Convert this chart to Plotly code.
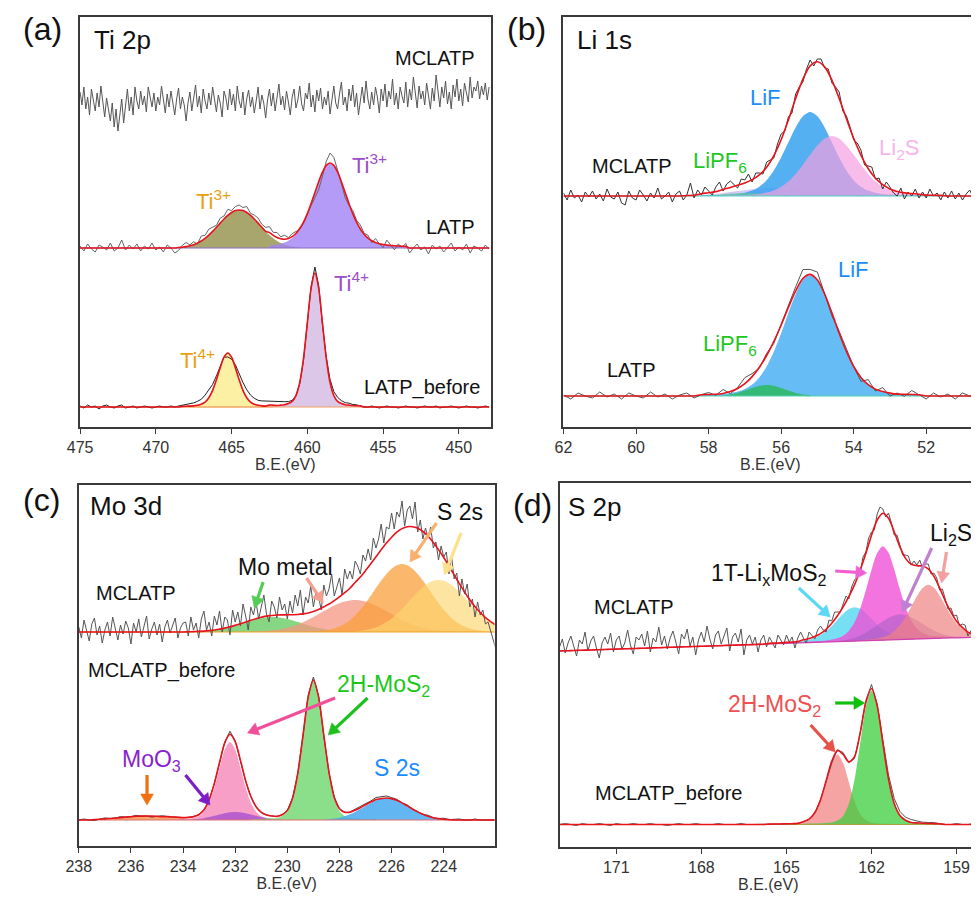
import numpy as np
import plotly.graph_objects as go

# page geometry: the html body keeps its default 8 px margin, so the figure is drawn 8 px in
W, H, OFF = 979, 897, 8
FW, FH = W - OFF, H - OFF
FONT = "Liberation Sans, Arial, sans-serif"

# ================= Panel (a) Ti 2p : grid 475 -> 448 eV, step 0.25 (MCLATP raw: step 0.125) =================
A_EV0, A_STEP, A_N = 475.0, 0.25, 109
A_RAW_STEP, A_RAW_N = 0.125, 217
a_mclatp_raw = [335,322,340,318,330,312,338,325,316,334, 320,341,326,310,329,318,306,324,300,318,
                296,312,328,304,322,338,316,330,312,340, 326,318,336,322,331,315,340,328,320,334,
                316,330,322,341,327,314,333,320,336,324, 312,328,339,318,330,322,306,324,335,316,
                329,342,320,331,314,338,326,318,334,322, 340,327,315,332,324,310,336,329,317,338,
                322,333,316,341,326,319,335,312,328,337, 320,330,314,326,340,318,332,324,309,327,
                338,321,334,316,329,343,322,331,317,336, 325,312,330,338,319,327,341,323,316,334,
                328,344,320,332,315,337,326,339,318,330, 322,336,313,327,341,324,318,333,345,322,
                330,316,338,326,342,320,334,312,329,340, 324,346,328,318,335,322,340,330,314,338,
                326,343,320,336,328,348,322,334,318,340, 331,324,345,320,338,327,350,332,319,341,
                328,336,322,344,330,318,339,326,352,334, 320,340,329,346,323,335,318,342,330,348,
                326,338,321,344,333,325,350,329,340,336, 346,328,341,332,344,327,340]
a_latp_base = 179
a_latp_ti3_low_start = 26
a_latp_ti3_low = [0.5,0.8,1.4,2.2,3.3,4.9,7.0,9.7,12.9,16.6,20.7,24.9,29.0,32.6,35.5,37.4,38,37.4,35.5,
                  32.6,29.0,24.9,20.7,16.6,12.9,9.7,7.0,4.9,3.3,2.2,1.4,0.8,0.5]
a_latp_ti3_main_start = 50
a_latp_ti3_main = [2.5,2.9,3.5,4.3,5.4,7.3,9.9,13.7,19.0,25.8,34.4,44.5,55.4,66.3,75.8,82.6,85,82.6,75.8,
                   66.3,55.4,44.5,34.4,25.8,19.0,13.7,9.9,7.3,5.4,4.3,3.5,2.9,2.5,2.2,2.0,1.8,1.6]
a_latp_resid = [2,-3,4,-1,-4,3,1,-2,5,-3,0,8,-2,3,-1,4,-3,2,-1,5,-2,1,-4,3,0,-5,
                -3,2,4,1,3,-1,5,3,6,4,2,5,3,6,2,4,
                5,3,6,2,4,5,3,4,6,3,5,2,4,1,3,2,-1,
                -1,0,-2,-5,-8,-4,4,
                10,8,2,-3,-5,-2,3,2,4,1,
                3,-2,4,0,-3,5,1,-4,2,-1,3,-5,0,4,-2,1,-6,3,-1,2,-4,0,5,-3,1,-2,4,-5,2,0,-3,3,-1]
a_bf_base = 20
a_bf_ti4_low_start = 27
a_bf_ti4_low = [0.6,0.8,0.9,1.1,1.7,2.7,4.9,9.3,16.6,27.2,39.3,49.8,54,49.8,39.3,27.2,16.6,9.3,4.9,2.7,
                1.7,1.1,0.9,0.8,0.6]
a_bf_ti4_main_start = 50
a_bf_ti4_main = [1.1,1.2,1.5,1.9,2.3,3.4,5.6,11.4,24.5,48.9,83.9,118.6,134,118.6,83.9,48.9,24.5,11.4,5.6,
                 3.4,2.3,1.9,1.5,1.2,1.1]
a_bf_resid = [1,-1,2,0,1,-2,1,2,0,-1,1,2,-1,0,1,-1,0,1,0,-1,0,1,0,0,1,0,
              1,1,2,2,3,4,5,7,8,6,4,2,0,
              -4,
              -2,3,6,8,8,7,6,5,5,5,4,4,
              4,3,3,2,1,0,-1,-2,-3,2,
              6,
              3,-2,1,3,4,4,3,2,2,1,1,0,0,
              0,1,0,-1,0,1,0,0,-1,0,1,0,0,-1,0,1,0,0,1,-1,0,0,1,0,-1,0,1,0,0,-1,0,1,0]

# ================= Panel (b) Li 1s : grid 62 -> 50.6 eV, step 0.2 (MCLATP raw: step 0.1) =================
B_EV0, B_STEP, B_N = 62.0, 0.2, 58
B_RAW_STEP, B_RAW_N = 0.1, 115
b_mc_base = 231
b_mc_broad_start = 17
b_mc_broad = [0.45,0.7,1.1,1.6,2.2,3.0,3.9,4.9,5.8,6.7,7.4,7.8,8,7.8,7.4,6.7,5.8,4.9,3.9,3.0,2.2,1.6,1.1,0.7,0.45]
b_mc_lipf6_start = 19
b_mc_lipf6 = [0.4,0.7,1.2,1.8,2.4,2.8,3,2.8,2.4,1.8,1.2,0.7,0.4]
b_mc_lif_start = 19
b_mc_lif = [0.8,0.9,1.0,1.1,1.5,2.1,3.2,5.4,9.3,15.8,25.6,38.5,53.7,68.6,79.8,84,79.8,68.6,53.7,38.5,
            25.6,15.8,9.3,5.4,3.2,2.1,1.5,1.1,1.0,0.9,0.8]
b_mc_li2s_start = 22
b_mc_li2s = [0.6,0.7,0.9,1.0,1.5,2.1,3.4,5.6,9.2,14.6,22.1,31.2,41.2,50.6,57.5,60,57.5,50.6,41.2,31.2,
             22.1,14.6,9.2,5.6,3.4,2.1,1.5,1.0,0.9,0.7,0.6]
b_mc_raw = [234,227,237,229,232,225,235,230,236,228, 233,226,238,230,228,235,224,222,236,229,
            227,237,232,226,234,229,239,228,231,235, 225,233,236,227,232,244,229,237,232,240,
            236,232,240,245,236,243,246,242,239,248, 247,253,245,254,254,253,265,267,269,283,
            293,296,310,314,333,340,345,358,367,361, 368,368,359,358,344,340,335,316,311,300,
            287,284,277,262,261,260,248,249,238,245, 240,234,231,239,228,235,231,238,229,235,
            229,238,231,234,227,235,229,236,228,234, 227,233,237,229,234]
b_latp_base = 31
b_latp_lipf6_start = 22
b_latp_lipf6 = [0.6,1.5,3.1,5.4,8.0,10.2,11,10.2,8.0,5.4,3.1,1.5,0.6]
b_latp_lif_start = 19
b_latp_lif = [1.3,1.5,1.7,1.9,2.9,4.4,6.9,11.4,18.6,29.5,44.5,62.8,83.1,102.0,115.9,121,115.9,102.0,
              83.1,62.8,44.5,29.5,18.6,11.4,6.9,4.4,2.9,1.9,1.7,1.5,1.3]
b_latp_resid = [1,-3,3,0,-2,4,-1,2,-3,3,0,-2,4,-1,2,-3,1,3,-2,0,2,-1,4,-2,1,6,3,-1,2,-2,
                1,3,4,9,5,8,-1,-3,2,3,0,-4,5,-2,4,-3,1,-2,4,0,-3,3,-1,2,-3,3,0,-2]

# ================= Panel (c) Mo 3d : grid 238 -> 222 eV, step 0.2 (MCLATP raw: step 0.1) =================
C_EV0, C_STEP, C_N = 238.0, 0.2, 81
C_RAW_STEP, C_RAW_N = 0.1, 161
c_mc_base = 214
c_mc_mo_start = 21
c_mc_mo = [0.2,0.4,0.6,0.9,1.4,2.0,2.9,3.9,5.2,6.7,8.3,9.9,11.5,12.9,14.0,14.8,15,14.8,14.0,12.9,11.5,
           9.9,8.3,6.7,5.2,3.9,2.9,2.0,1.4,0.9,0.6,0.4,0.2]
c_mc_salmon_start = 33
c_mc_salmon = [0.3,0.45,0.7,1.1,1.5,2.2,3.1,4.3,5.8,7.6,9.8,12.3,15.0,17.9,20.9,23.8,26.5,28.8,30.5,31.6,
               32,31.6,30.5,28.8,26.5,23.8,20.9,17.9,15.0,12.3,9.8,7.6,5.8,4.3,3.1,2.2,1.5,1.1,0.7,0.45,0.3]
c_mc_s2s_a_start = 45
c_mc_s2s_a = [0.4,0.7,1.4,2.2,3.5,5.5,8.2,11.8,16.6,22.2,28.9,36.2,43.9,51.4,58.1,63.3,66.8,68,66.8,
              63.3,58.1,51.4,43.9,36.2,28.9,22.2,16.6,11.8,8.2,5.5,3.5,2.2,1.4,0.7,0.4]
c_mc_s2s_b_start = 53
c_mc_s2s_b = [0.75,1.2,2.0,3.2,4.8,7.0,9.9,13.6,18.1,23.1,28.7,34.4,39.9,44.8,48.7,51.2,52,51.2,48.7,
              44.8,39.9,34.4,28.7,23.1,18.1,13.6,9.9,7.0]
c_mc_raw = [219,208,226,215,205,222,228,211,220,203,216,224,210,229,217,206,221,212,225,218,
            202,223,214,227,209,220,230,207,217,224,211,222,204,219,226,213,221,228,208,218,
            223,224,210,229,216,223,208,227,235,216,224,210,230,221,235,214,229,226,211,236,
            224,234,220,242,230,216,239,231,244,227,239,251,232,224,245,239,228,249,236,242,
            227,245,233,251,240,256,231,249,243,260,239,254,249,236,261,250,257,272,250,260,
            268,251,277,267,275,267,285,280,272,291,285,297,286,308,298,307,322,303,319,317,
            333,317,334,329,345,320,336,340,327,344,314,326,307,318,308,319,298,304,286,300,
            289,294,272,290,267,273,250,267,252,262,239,247,229,244,231,236,222,224,214,205,
            197]
c_bf_base = 26
c_bf_orange_start = 3
c_bf_orange = [0.5,0.8,1.1,1.5,1.9,2.4,2.9,3.3,3.7,3.9,4,3.9,3.7,3.3,2.9,2.4,1.9,1.5,1.1,0.8,0.5]
c_bf_pink_start = 17
c_bf_pink = [0.5,0.6,0.8,0.9,1.2,2.0,3.7,8.2,17.2,32.4,52.2,70.3,78,70.3,52.2,32.4,17.2,8.2,3.7,2.0,
             1.2,0.9,0.8,0.6,0.5]
c_bf_moo3_start = 21
c_bf_moo3 = [0.3,0.6,1.1,1.8,2.9,4.2,5.5,6.8,7.7,8,7.7,6.8,5.5,4.2,2.9,1.8,1.1,0.6,0.3]
c_bf_green_start = 33
c_bf_green = [0.8,0.9,1.1,1.3,1.7,2.1,4.1,9.0,21.4,46.6,84.4,122.8,140,122.8,84.4,46.6,21.4,9.0,4.1,
              2.1,1.7,1.3,1.1,0.9,0.8]
c_bf_blue_start = 47
c_bf_blue = [0.4,0.8,1.4,2.3,3.7,5.7,8.1,11.0,14.1,17.1,19.7,21.4,22,21.4,19.7,17.1,14.1,11.0,8.1,5.7,
             3.7,2.3,1.4,0.8,0.4]
c_bf_resid = [0,1,0,-1,0,1,0,0,1,0, 0,1,0,0,-1,0,1,0,0,0, 0,0,0,0,0,0,0,-1,1,3,
              1,-1,0,0,0,0,0,0,0,0, 0,0,0,0,2,3,1,-1,0,0, 0,0,0,1,1,1,1,2,2,2,
              1,1,0,1,0,0,0,1,0,0, 1,0,1,1,0,0,1,0,0,0, 0]

# ================= Panel (d) S 2p : grid 173 -> 158.2 eV, step 0.2 (MCLATP raw: step 0.1) =================
D_EV0, D_STEP, D_N = 173.0, 0.2, 75
D_RAW_STEP, D_RAW_N = 0.1, 148
d_mc_base = [196.0,196.2,196.4,196.6,196.8,196.9,197.1,197.3,197.5,197.7,197.9,198.1,198.3,198.5,198.6,
             198.8,199.0,199.2,199.4,199.6,199.8,200.0,200.2,200.4,200.5,200.7,200.9,201.1,201.3,201.5,
             201.7,201.9,202.1,202.2,202.4,202.6,202.8,203.0,203.2,203.4,203.6,203.8,203.9,204.1,204.3,
             204.5,204.7,204.9,205.1,205.3,205.5,205.6,205.8,206.0,206.2,206.4,206.6,206.8,207.0,207.2,
             207.4,207.5,207.7,207.9,208.1,208.3,208.5,208.7,208.9,209.1,209.2,209.4,209.6,209.8,210.0]
d_mc_cyan_start = 37
d_mc_cyan = [0.6,0.7,0.8,1.0,1.1,1.5,2.1,3.1,4.7,7.3,11.1,16.0,21.9,27.7,32.3,34,32.3,27.7,21.9,16.0,
             11.1,7.3,4.7,3.1,2.1,1.5,1.1,1.0,0.8,0.7,0.6]
d_mc_magenta_start = 43
d_mc_magenta = [1.0,1.1,1.2,1.4,1.7,2.4,3.5,5.8,10.5,18.9,32.3,50.4,70.6,87.3,94,87.3,70.6,50.4,32.3,
                18.9,10.5,5.8,3.5,2.4,1.7,1.4,1.2,1.1,1.0]
d_mc_violet_start = 48
d_mc_violet = [0.3,0.6,1.1,2.0,3.4,5.4,8.1,11.5,15.2,18.9,22.1,24.2,25,24.2,22.1,18.9,15.2,11.5,8.1,5.4,
               3.4,2.0,1.1,0.6,0.3]
d_mc_salmon_start = 53
d_mc_salmon = [0.8,1.0,1.2,1.9,3.0,5.0,8.6,14.3,22.5,32.5,42.8,50.9,54,50.9,42.8,32.5,22.5,14.3,8.6,5.0,
               3.0,1.9]
d_mc_raw = [200,208,194,204,211,200,191,207,203,215, 196,206,211,199,189,204,210,203,214,195,
            207,211,198,204,217,202,193,210,207,213, 201,216,195,209,205,220,202,211,198,209,
            216,205,193,213,208,218,201,210,192,207, 215,205,221,208,198,212,216,203,211,219,
            196,210,214,205,218,192,207,212,203,210, 195,207,212,200,210,205,199,212,207,202,
            212,205,210,199,209,215,209,204,215,212, 208,217,221,217,215,227,226,235,235,235,
            243,251,248,260,267,270,274,290,295,309, 315,317,333,340,338,330,334,324,312,312,
            302,292,292,291,282,286,282,287,279,283, 283,273,274,269,257,258,248,238,239,231,
            232,221,223,222,211,216,219,209]
d_bf_base = 22.5
d_bf_red_start = 37
d_bf_red = [0.4,0.5,0.5,0.7,0.8,1.1,2.0,4.5,10.7,23.3,42.2,61.4,70,61.4,42.2,23.3,10.7,4.5,2.0,1.1,0.8,
            0.7,0.5,0.5,0.4]
d_bf_green_start = 43
d_bf_green = [0.8,0.9,1.0,1.3,1.6,2.0,3.9,8.6,20.5,44.6,80.8,117.5,134,117.5,80.8,44.6,20.5,8.6,3.9,2.0,
              1.6,1.3,1.0,0.9,0.8]
d_bf_resid = [0,1,0,-1,1,0,0,1,0,-1, 1,0,0,1,0,0,1,0,0,-1, 0,1,0,0,1,0,0,0,1,0,
              0,0,1,0,0,0,0,0,0,0, 0,0,0,0,0,0,0,-1,-2,1, 2,-1,-2,0,2,4,2,3,4,5,
              4,3,3,2,1,1,1,0,0,0, 1,0,0,1,0]

# ---------------------------------------------------------------------------
fig = go.Figure()


def grid(ev0, step, n):
    return ev0 - step * np.arange(n)


def place(n, start, prof):
    arr = np.zeros(n)
    arr[start:start + len(prof)] = prof
    return arr


def add_comp(ax, x, base, start, prof, fill, line=None):
    seg = slice(start, start + len(prof))
    xs = x[seg]
    b = np.asarray(base)[seg]
    top = b + np.asarray(prof)
    fig.add_trace(go.Scatter(
        x=np.concatenate([xs, xs[::-1]]), y=np.concatenate([top, b[::-1]]),
        fill="toself", fillcolor=fill, mode="lines",
        line=dict(width=0.8 if line else 0, color=line or fill, shape="spline", smoothing=0.8),
        xaxis="x" + ax, yaxis="y" + ax, hoverinfo="skip", showlegend=False))


def add_line(ax, x, y, color, width, shape="linear"):
    fig.add_trace(go.Scatter(x=x, y=y, mode="lines",
                             line=dict(color=color, width=width, shape=shape, smoothing=0.8),
                             xaxis="x" + ax, yaxis="y" + ax, hoverinfo="skip", showlegend=False))


def spectrum(ax, x, base, comps, resid, raw_color, base_color, fit_color="#e8141c", raw=None):
    n = len(x)
    base_arr = np.full(n, base, dtype=float) if np.isscalar(base) else np.asarray(base, dtype=float)
    env = base_arr.copy()
    for start, prof, fill, line in comps:
        env += place(n, start, prof)
    for start, prof, fill, line in comps:
        add_comp(ax, x, base_arr, start, prof, fill, line)
    add_line(ax, x, base_arr, base_color, 1.2)
    if raw is None:
        add_line(ax, x, env + np.asarray(resid), raw_color, 1.0)
    else:
        add_line(ax, raw[0], raw[1], raw_color, 1.0)
    add_line(ax, x, env, fit_color, 1.6, "spline")


# ---- (a)
xa = grid(A_EV0, A_STEP, A_N)
add_line("", grid(A_EV0, A_RAW_STEP, A_RAW_N), a_mclatp_raw, "#555555", 1.0)
spectrum("", xa, a_latp_base,
         [(a_latp_ti3_low_start, a_latp_ti3_low, "rgba(140,136,60,0.75)", None),
          (a_latp_ti3_main_start, a_latp_ti3_main, "rgba(160,130,245,0.8)", None)],
         a_latp_resid, "#666666", "#8a6cc8")
spectrum("", xa, a_bf_base,
         [(a_bf_ti4_low_start, a_bf_ti4_low, "rgba(250,236,140,0.8)", "rgba(240,150,60,0.9)"),
          (a_bf_ti4_main_start, a_bf_ti4_main, "rgba(212,185,228,0.8)", None)],
         a_bf_resid, "#222222", "#f0a060")

# ---- (b)
xb = grid(B_EV0, B_STEP, B_N)
spectrum("2", xb, b_mc_base,
         [(b_mc_broad_start, b_mc_broad, "rgba(185,160,240,0.6)", None),
          (b_mc_lif_start, b_mc_lif, "rgba(55,162,240,0.85)", None),
          (b_mc_lipf6_start, b_mc_lipf6, "rgba(90,205,140,0.6)", None),
          (b_mc_li2s_start, b_mc_li2s, "rgba(245,160,225,0.7)", None)],
         None, "#333333", "#50d0c0", raw=(grid(B_EV0, B_RAW_STEP, B_RAW_N), b_mc_raw))
spectrum("2", xb, b_latp_base,
         [(b_latp_lif_start, b_latp_lif, "rgba(75,178,245,0.85)", None),
          (b_latp_lipf6_start, b_latp_lipf6, "rgba(45,185,95,0.85)", None)],
         b_latp_resid, "#555555", "#50d0b0")

# ---- (c)
xc = grid(C_EV0, C_STEP, C_N)
spectrum("3", xc, c_mc_base,
         [(c_mc_mo_start, c_mc_mo, "rgba(95,200,90,0.75)", None),
          (c_mc_salmon_start, c_mc_salmon, "rgba(245,150,130,0.75)", None),
          (c_mc_s2s_a_start, c_mc_s2s_a, "rgba(250,160,60,0.75)", None),
          (c_mc_s2s_b_start, c_mc_s2s_b, "rgba(252,215,110,0.65)", None)],
         None, "#555555", "#f0a020", raw=(grid(C_EV0, C_RAW_STEP, C_RAW_N), c_mc_raw))
spectrum("3", xc, c_bf_base,
         [(c_bf_orange_start, c_bf_orange, "rgba(240,130,40,0.7)", None),
          (c_bf_pink_start, c_bf_pink, "rgba(245,135,185,0.8)", None),
          (c_bf_moo3_start, c_bf_moo3, "rgba(160,70,210,0.7)", None),
          (c_bf_green_start, c_bf_green, "rgba(110,215,110,0.8)", None),
          (c_bf_blue_start, c_bf_blue, "rgba(70,170,240,0.85)", None)],
         c_bf_resid, "#444444", "#e07070")

# ---- (d)
xd = grid(D_EV0, D_STEP, D_N)
spectrum("4", xd, d_mc_base,
         [(d_mc_cyan_start, d_mc_cyan, "rgba(60,210,240,0.7)", None),
          (d_mc_magenta_start, d_mc_magenta, "rgba(240,80,215,0.8)", None),
          (d_mc_violet_start, d_mc_violet, "rgba(150,90,190,0.45)", None),
          (d_mc_salmon_start, d_mc_salmon, "rgba(240,130,130,0.7)", None)],
         None, "#555555", "#d040b0", raw=(grid(D_EV0, D_RAW_STEP, D_RAW_N), d_mc_raw))
spectrum("4", xd, d_bf_base,
         [(d_bf_red_start, d_bf_red, "rgba(242,140,140,0.8)", None),
          (d_bf_green_start, d_bf_green, "rgba(60,205,60,0.75)", None)],
         d_bf_resid, "#555555", "#b0a040")

# ---------------------------------------------------------------------------
def fx(v):
    return (v - OFF) / FW


def fy(v):
    return 1 - (v - OFF) / FH


axis_common = dict(showline=True, mirror=True, linecolor="#3a3a3a", linewidth=1.5,
                   showgrid=False, zeroline=False)
xa_common = dict(axis_common, ticks="outside", ticklen=5, tickwidth=1.2, tickcolor="#3a3a3a",
                 tickfont=dict(family=FONT, size=16, color="#333"),
                 title=dict(text="B.E.(eV)", font=dict(family=FONT, size=16, color="#333"), standoff=2))
ya_common = dict(axis_common, showticklabels=False, ticks="")

fig.update_layout(
    width=FW, height=FH, margin=dict(l=0, r=0, t=0, b=0),
    paper_bgcolor="white", plot_bgcolor="white", showlegend=False,
    xaxis=dict(xa_common, domain=[fx(68), fx(485)], range=[475, 447.9],
               tickvals=[475, 470, 465, 460, 455, 450], anchor="y"),
    yaxis=dict(ya_common, domain=[fy(427), fy(17)], range=[0, 410], anchor="x"),
    xaxis2=dict(xa_common, domain=[fx(559), 1.0], range=[62, 50.6],
                tickvals=[62, 60, 58, 56, 54, 52], anchor="y2"),
    yaxis2=dict(ya_common, domain=[fy(427), fy(17)], range=[0, 410], anchor="x2"),
    xaxis3=dict(xa_common, domain=[fx(66.7), fx(489)], range=[238, 222.05],
                tickvals=list(range(238, 221, -2)), anchor="y3"),
    yaxis3=dict(ya_common, domain=[fy(846), fy(485)], range=[0, 361], anchor="x3"),
    xaxis4=dict(xa_common, domain=[fx(555), 1.0], range=[173, 158.28],
                tickvals=[171, 168, 165, 162, 159], anchor="y4"),
    yaxis4=dict(ya_common, domain=[fy(847), fy(483)], range=[0, 364], anchor="x4"),
)


def txt(s, x, y, size, color="#111111", anchor="left"):
    fig.add_annotation(x=fx(x), y=fy(y), xref="paper", yref="paper", text=s, showarrow=False,
                       xanchor=anchor, yanchor="middle",
                       font=dict(family=FONT, size=size, color=color))


def arrow(tx, ty, hx, hy, color, w=3.2, hl=11, hw=6.5):
    dx, dy = hx - tx, hy - ty
    ln = (dx * dx + dy * dy) ** 0.5
    ux, uy = dx / ln, dy / ln
    bx, by = hx - ux * hl, hy - uy * hl
    fig.add_shape(type="line", xref="paper", yref="paper",
                  x0=fx(tx), y0=fy(ty), x1=fx(bx + ux * 1.5), y1=fy(by + uy * 1.5),
                  line=dict(color=color, width=w))
    p1 = (bx - uy * hw, by + ux * hw)
    p2 = (bx + uy * hw, by - ux * hw)
    path = "M {:.5f},{:.5f} L {:.5f},{:.5f} L {:.5f},{:.5f} Z".format(
        fx(hx), fy(hy), fx(p1[0]), fy(p1[1]), fx(p2[0]), fy(p2[1]))
    fig.add_shape(type="path", xref="paper", yref="paper", path=path,
                  fillcolor=color, line=dict(color=color, width=0.5))


# panel letters
txt("(a)", 8, 29, 32)
txt("(b)", 500, 29, 32)
txt("(c)", 8, 500, 32)
txt("(d)", 506, 505, 32)

# (a)
txt("Ti 2p", 80, 40, 26)
txt("MCLATP", 386, 58, 20)
txt("LATP", 417, 227, 20)
txt("LATP_before", 354, 387, 20)
txt("Ti<sup>3+</sup>", 184, 200, 22, "#e8a010")
txt("Ti<sup>3+</sup>", 342, 164, 22, "#9b4dca")
txt("Ti<sup>4+</sup>", 324, 282, 22, "#9b4dca")
txt("Ti<sup>4+</sup>", 167, 359, 22, "#e8a010")

# (b)
txt("Li 1s", 571, 40, 26)
txt("LiF", 746, 98, 22, "#1a8cff")
txt("LiPF<sub>6</sub>", 689, 162, 22, "#1ec81e")
txt("Li<sub>2</sub>S", 877, 149, 22, "#f8b4ec")
txt("MCLATP", 586, 166, 20)
txt("LiF", 836, 269, 22, "#1a8cff")
txt("LiPF<sub>6</sub>", 699, 345, 22, "#1ec81e")
txt("LATP", 601, 370, 20)

# (c)
txt("Mo 3d", 76, 506, 26)
txt("S 2s", 429, 512, 23)
txt("Mo metal", 226, 567, 23)
txt("MCLATP", 82, 593, 20)
txt("MCLATP_before", 74, 670, 20)
txt("2H-MoS<sub>2</sub>", 327, 685, 23, "#19c819")
txt("MoO<sub>3</sub>", 109, 760, 23, "#8a1fd0")
txt("S 2s", 364, 768, 23, "#1a8cff")
arrow(254, 582, 245, 608, "#55cc55")
arrow(298, 578, 315, 603, "#f4a090")
arrow(430, 523, 403, 562, "#f8b070")
arrow(455, 533, 438, 575, "#fde08a")
arrow(327, 698, 238, 733, "#f0509a")
arrow(360, 698, 320, 735, "#1ec01e")
arrow(175, 775, 200, 805, "#7a1fc8")
arrow(136, 775, 136, 805, "#f07010")

# (d)
txt("S 2p", 562, 507, 26)
txt("1T-Li<sub>x</sub>MoS<sub>2</sub>", 707, 574, 23)
txt("Li<sub>2</sub>S", 929, 534, 23)
txt("MCLATP", 588, 607, 20)
txt("2H-MoS<sub>2</sub>", 724, 705, 23, "#f05050")
txt("MCLATP_before", 589, 793, 20)
arrow(798, 588, 830, 617, "#5ad8f5")
arrow(835, 571, 867, 573, "#f060d0")
arrow(933, 548, 903, 612, "#c080d0")
arrow(948, 552, 943, 583, "#f5a0a0")
arrow(835, 703, 865, 703, "#10c010")
arrow(810, 725, 835, 752, "#e8504a")

fig.write_html("out.html")
